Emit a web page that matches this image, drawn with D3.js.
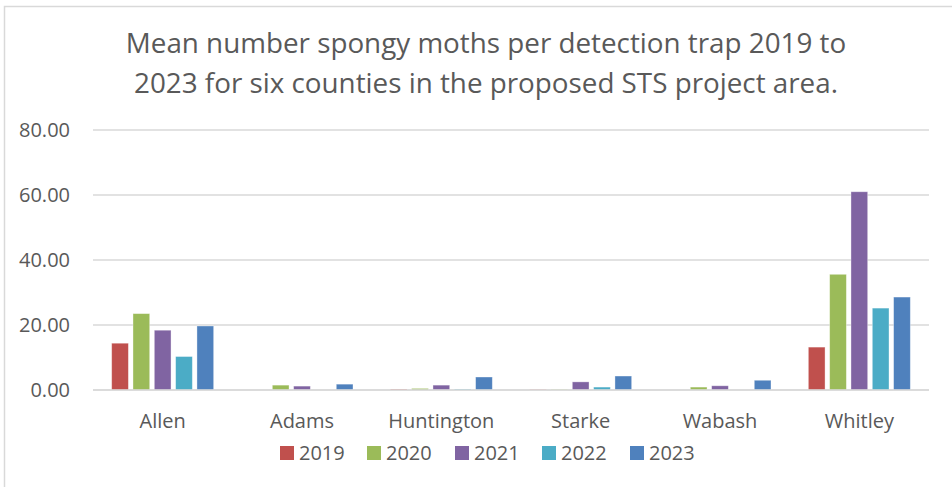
<!DOCTYPE html>
<html><head><meta charset="utf-8">
<script src="https://cdn.jsdelivr.net/npm/d3@7"></script>
<style>
html,body{margin:0;padding:0;background:#fff;}
svg{display:block;font-family:"Open Sans",sans-serif;}
</style></head>
<body><svg id="chart" width="952" height="487"></svg>
<script>
const titleLines = ["Mean number spongy moths per detection trap 2019 to",
                    "2023 for six counties in the proposed STS project area."];
const counties = ["Allen","Adams","Huntington","Starke","Wabash","Whitley"];
const years = ["2019","2020","2021","2022","2023"];
const colors = ["#C0504D","#9BBB59","#8064A2","#4BACC6","#4F81BD"];
const v2019 = [14.4, 0.0, 0.3, 0.2, 0.0, 13.2];
const v2020 = [23.5, 1.5, 0.5, 0.2, 0.9, 35.6];
const v2021 = [18.4, 1.2, 1.5, 2.5, 1.3, 61.0];
const v2022 = [10.3, 0.0, 0.3, 0.9, 0.0, 25.2];
const v2023 = [19.7, 1.8, 4.0, 4.3, 3.0, 28.6];
const yTicks = [0, 20, 40, 60, 80];

const series = [v2019, v2020, v2021, v2022, v2023];
const svg = d3.select("#chart");
const textColor = "#595959", gridColor = "#d9d9d9";

// outer frame
svg.append("rect").attr("x",4.5).attr("y",6.5).attr("width",980).attr("height",520)
  .attr("fill","#fff").attr("stroke",gridColor).attr("stroke-width",1.5);

// title
svg.append("g").selectAll("text").data(titleLines).join("text")
  .attr("x",486).attr("y",(d,i)=>53+i*39.5).attr("text-anchor","middle")
  .attr("font-size",27.8).attr("fill",textColor).text(d=>d);

const plot = {left:93, right:929, top:130, bottom:390};
const y = d3.scaleLinear().domain([0,80]).range([plot.bottom, plot.top]);
const x0 = d3.scaleBand().domain(counties).range([plot.left, plot.right]).paddingInner(0).paddingOuter(0);
const bw = x0.bandwidth();
const x1 = d3.scaleBand().domain(years).range([bw*0.134, bw*0.866]).paddingInner(0.216).paddingOuter(0);

// gridlines
svg.append("g").selectAll("line").data(yTicks).join("line")
  .attr("x1",plot.left).attr("x2",plot.right)
  .attr("y1",d=>y(d)).attr("y2",d=>y(d))
  .attr("stroke",gridColor).attr("stroke-width",1.5);

// y axis labels
const yAxis = d3.axisLeft(y).tickValues(yTicks).tickFormat(d3.format(".2f")).tickSize(0).tickPadding(0);
const gy = svg.append("g").attr("transform",`translate(70,0)`).call(yAxis);
gy.select(".domain").remove();
gy.selectAll("text").attr("font-size",20).attr("fill",textColor).attr("font-family","Open Sans, sans-serif");

// bars
const groups = svg.append("g").selectAll("g").data(counties).join("g")
  .attr("transform",d=>`translate(${x0(d)},0)`);
groups.selectAll("rect").data((c,ci)=>years.map((yr,si)=>({yr, si, v: series[si][ci]}))).join("rect")
  .attr("x",d=>x1(d.yr)).attr("width",x1.bandwidth())
  .attr("y",d=>y(d.v)).attr("height",d=>y(0)-y(d.v))
  .attr("fill",d=>colors[d.si])
  .attr("stroke","#ffffff").attr("stroke-opacity",0.45).attr("stroke-width",0.8);

// zero axis line
svg.append("line").attr("x1",plot.left).attr("x2",plot.right)
  .attr("y1",y(0)).attr("y2",y(0)).attr("stroke",gridColor).attr("stroke-width",1.5);

// x axis labels
const xAxis = d3.axisBottom(x0).tickSize(0).tickPadding(0);
const gx = svg.append("g").attr("transform",`translate(0,${plot.bottom})`).call(xAxis);
gx.select(".domain").remove();
gx.selectAll("text").attr("font-size",20).attr("fill",textColor).attr("font-family","Open Sans, sans-serif")
  .attr("dy",null).attr("y",38);

// legend
const legX = [280, 367, 455, 542, 630];
const leg = svg.append("g").selectAll("g").data(years).join("g")
  .attr("transform",(d,i)=>`translate(${legX[i]},446)`);
leg.append("rect").attr("width",14).attr("height",14).attr("fill",(d,i)=>colors[i]);
leg.append("text").attr("x",19).attr("y",13.5).attr("font-size",20).attr("fill",textColor).text(d=>d);
</script>
</body></html>
